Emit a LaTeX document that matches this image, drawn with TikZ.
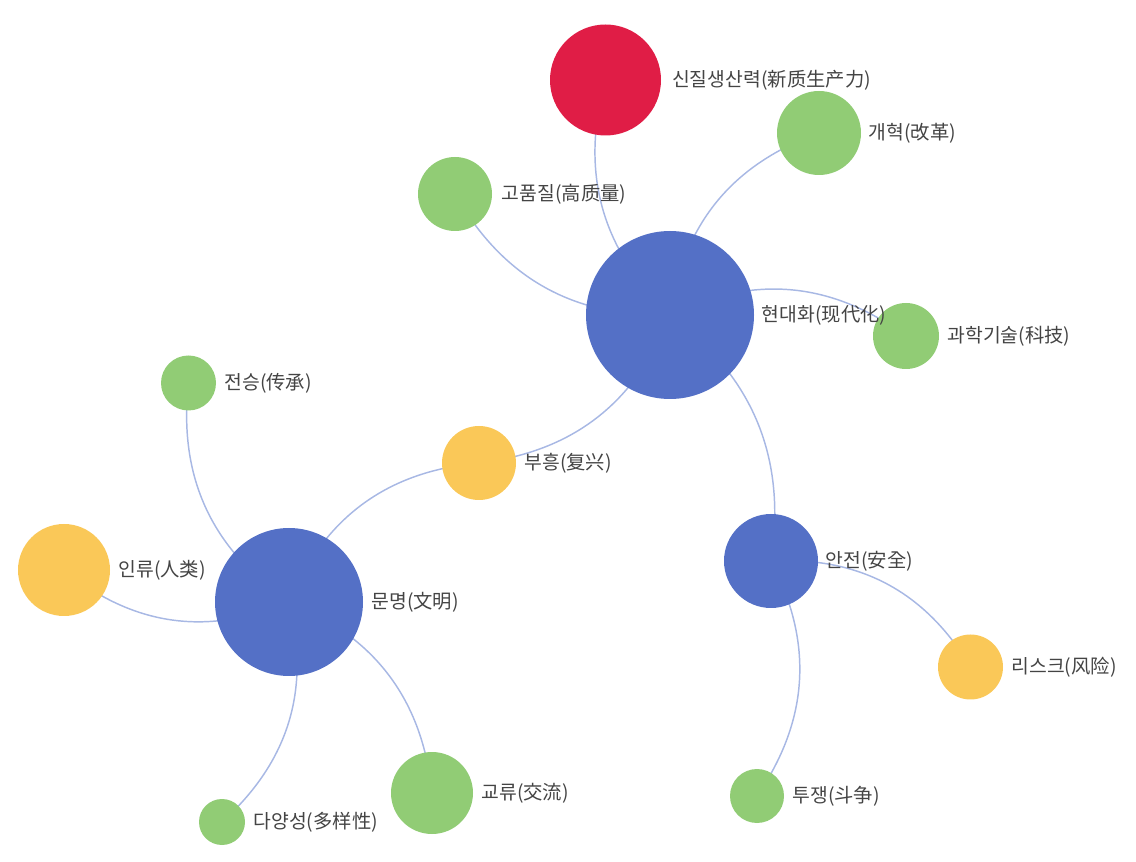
\documentclass[tikz,border=0pt]{standalone}
\usepackage{fontspec}
\setmainfont{Noto Sans CJK KR}
\usetikzlibrary{positioning}
\pgfdeclarelayer{bg}
\pgfsetlayers{bg,main}
\definecolor{cblue}{HTML}{5470C6}
\definecolor{cgreen}{HTML}{91CC75}
\definecolor{cyellow}{HTML}{FAC858}
\definecolor{cred}{HTML}{E01D46}
\definecolor{cedge}{HTML}{A8B8E4}
\definecolor{ctext}{HTML}{444444}
\begin{document}
\begin{tikzpicture}[x=0.75pt,y=-0.75pt,
  dot/.style={circle, inner sep=0pt, minimum size={#1*1.5pt}},
  lbl/.style={text=ctext, font=\fontsize{14.5pt}{17pt}\selectfont, inner sep=0pt},
  edge/.style={draw=cedge, line width=1.1pt}]
\useasboundingbox (0,0) rectangle (1136,862);
% nodes
\node[dot=55.5, fill=cred]    (xin)       at (605.5,80) {};
\node[dot=42,   fill=cgreen]  (reform)    at (819,133) {};
\node[dot=37,   fill=cgreen]  (quality)   at (455,194) {};
\node[dot=84,   fill=cblue]   (modern)    at (670,315) {};
\node[dot=33,   fill=cgreen]  (tech)      at (906,336) {};
\node[dot=27.5, fill=cgreen]  (heritage)  at (188.5,383) {};
\node[dot=37,   fill=cyellow] (revival)   at (479,463) {};
\node[dot=46,   fill=cyellow] (human)     at (64,570) {};
\node[dot=74,   fill=cblue]   (civ)       at (289,602) {};
\node[dot=47,   fill=cblue]   (safety)    at (771,561) {};
\node[dot=32.5, fill=cyellow] (risk)      at (970.5,667) {};
\node[dot=27,   fill=cgreen]  (struggle)  at (757,796) {};
\node[dot=41,   fill=cgreen]  (exchange)  at (432,793) {};
\node[dot=23,   fill=cgreen]  (diversity) at (222,822) {};
% edges
\begin{pgfonlayer}{bg}
\draw[edge] (modern.center) to[bend left=31] (xin.center);
\draw[edge] (modern.center) to[bend left=31] (reform.center);
\draw[edge] (modern.center) to[bend left=31] (quality.center);
\draw[edge] (modern.center) to[bend left=31] (tech.center);
\draw[edge] (modern.center) to[bend left=31] (revival.center);
\draw[edge] (modern.center) to[bend left=31] (safety.center);
\draw[edge] (civ.center) to[bend left=31] (revival.center);
\draw[edge] (civ.center) to[bend left=31] (heritage.center);
\draw[edge] (civ.center) to[bend left=31] (human.center);
\draw[edge] (civ.center) to[bend left=31] (diversity.center);
\draw[edge] (civ.center) to[bend left=31] (exchange.center);
\draw[edge] (safety.center) to[bend left=31] (risk.center);
\draw[edge] (safety.center) to[bend left=31] (struggle.center);
\end{pgfonlayer}
% labels
\node[lbl, right=8pt of xin]       (lxin) {신질생산력(新质生产力)};
\node[lbl, right=5.5pt of reform]  (lreform) {개혁(改革)};
\node[lbl, right=7pt of quality]   (lquality) {고품질(高质量)};
\node[lbl, right=5.5pt of modern]  (lmodern) {현대화(现代化)};
\node[lbl, right=6pt of tech]      (ltech) {과학기술(科技)};
\node[lbl, right=6pt of heritage]  (lheritage) {전승(传承)};
\node[lbl, right=6pt of revival]   (lrevival) {부흥(复兴)};
\node[lbl, right=6pt of human]     (lhuman) {인류(人类)};
\node[lbl, right=6pt of civ]       (lciv) {문명(文明)};
\node[lbl, right=5.5pt of safety]  (lsafety) {안전(安全)};
\node[lbl, right=6pt of risk]      (lrisk) {리스크(风险)};
\node[lbl, right=6pt of struggle]  (lstruggle) {투쟁(斗争)};
\node[lbl, right=6pt of exchange]  (lexchange) {교류(交流)};
\node[lbl, right=6pt of diversity] (ldiversity) {다양성(多样性)};
\end{tikzpicture}
\end{document}
